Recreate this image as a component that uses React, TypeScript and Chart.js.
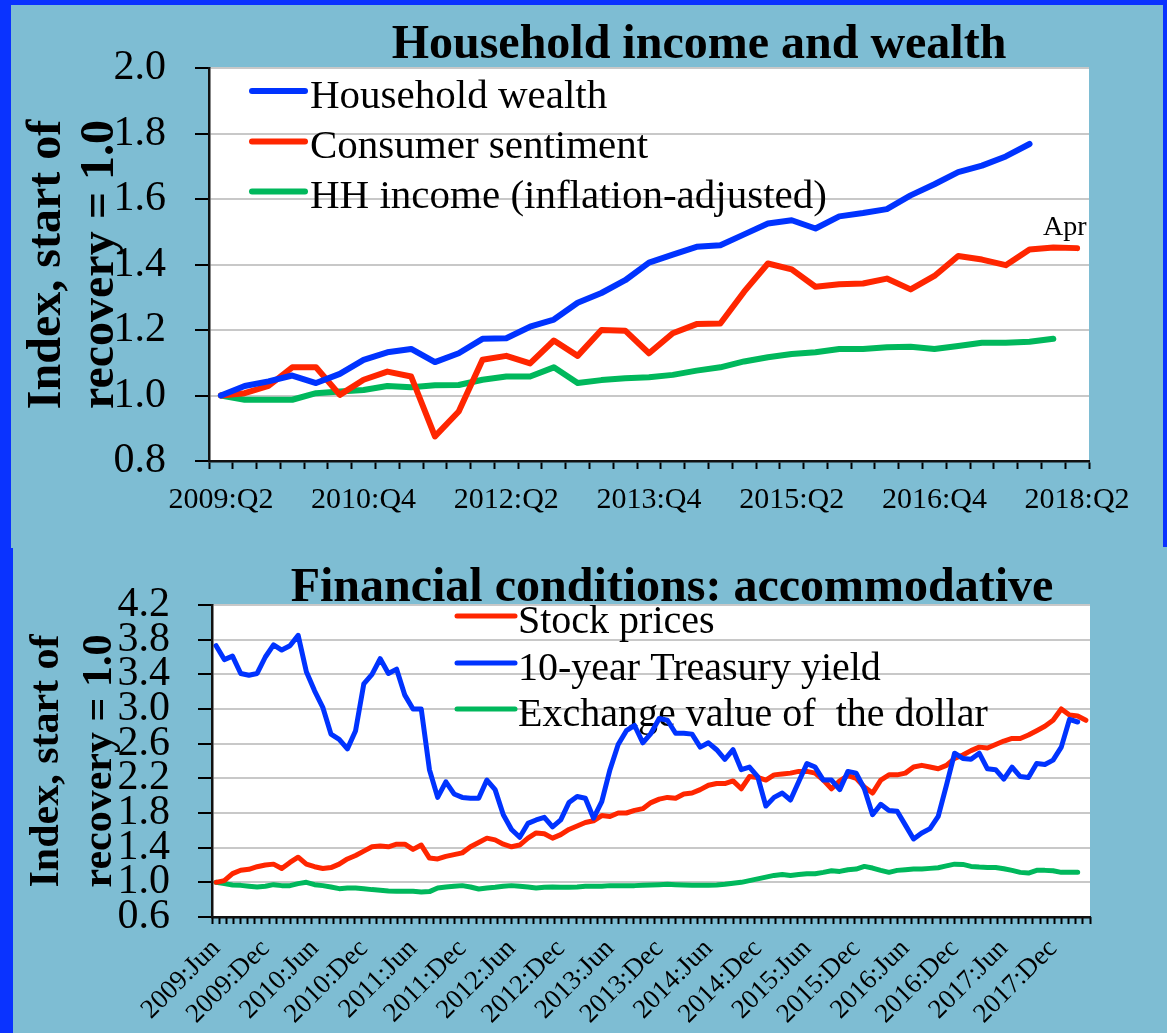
import React, { useEffect, useRef } from "react";
import { Chart, registerables } from "chart.js";

Chart.register(...registerables);

const SERIF = "'Liberation Serif', 'Times New Roman', Times, serif";
const PAGE_BG = "#7EBDD3";
const FRAME_BLUE = "#0A33FF";
const C_BLUE = "#0033FF";
const C_RED = "#FF2600";
const C_GREEN = "#00B85C";
const GRID = "#C8C8C8";

// ---------- Top chart: Household income and wealth (quarterly) ----------
const topTitle = "Household income and wealth";
const yAxisTitle = ["Index, start of", "recovery = 1.0"];
const quarterLabels = [
  "2009:Q2", "2009:Q3", "2009:Q4",
  "2010:Q1", "2010:Q2", "2010:Q3", "2010:Q4",
  "2011:Q1", "2011:Q2", "2011:Q3", "2011:Q4",
  "2012:Q1", "2012:Q2", "2012:Q3", "2012:Q4",
  "2013:Q1", "2013:Q2", "2013:Q3", "2013:Q4",
  "2014:Q1", "2014:Q2", "2014:Q3", "2014:Q4",
  "2015:Q1", "2015:Q2", "2015:Q3", "2015:Q4",
  "2016:Q1", "2016:Q2", "2016:Q3", "2016:Q4",
  "2017:Q1", "2017:Q2", "2017:Q3", "2017:Q4",
  "2018:Q1", "2018:Q2",
];
const householdWealth = [
  1.0, 1.029, 1.043, 1.061, 1.038, 1.066, 1.109, 1.132, 1.142, 1.102,
  1.129, 1.173, 1.175, 1.21, 1.232, 1.283, 1.313, 1.352, 1.406, 1.43,
  1.454, 1.459, 1.492, 1.525, 1.535, 1.51, 1.547, 1.557, 1.569, 1.611,
  1.645, 1.682, 1.702, 1.73, 1.768,
];
const consumerSentiment = [
  1.0, 1.007, 1.029, 1.086, 1.086, 1.002, 1.048, 1.073, 1.058, 0.875,
  0.951, 1.109, 1.121, 1.098, 1.168, 1.121, 1.2, 1.198, 1.129, 1.19,
  1.218, 1.22, 1.317, 1.403, 1.385, 1.332, 1.34, 1.342, 1.357, 1.324,
  1.365, 1.426, 1.415, 1.398, 1.446, 1.452, 1.45,
];
const hhIncome = [
  1.0, 0.987, 0.987, 0.987, 1.007, 1.012, 1.017, 1.029, 1.025, 1.031,
  1.032, 1.048, 1.058, 1.058, 1.086, 1.038, 1.047, 1.053, 1.056, 1.063,
  1.076, 1.086, 1.104, 1.117, 1.127, 1.132, 1.142, 1.142, 1.147, 1.149,
  1.142, 1.151, 1.161, 1.161, 1.164, 1.173,
];
const topSeriesNames = ["Household wealth", "Consumer sentiment", "HH income (inflation-adjusted)"];
const topNote = "Apr";
const topYMin = 0.8;
const topYMax = 2.0;
const topYStep = 0.2;

// ---------- Bottom chart: Financial conditions (monthly) ----------
const bottomTitle = "Financial conditions: accommodative";
const monthLabels = [
  "2009:Jun", "2009:Jul", "2009:Aug", "2009:Sep", "2009:Oct", "2009:Nov", "2009:Dec",
  "2010:Jan", "2010:Feb", "2010:Mar", "2010:Apr", "2010:May", "2010:Jun", "2010:Jul", "2010:Aug", "2010:Sep", "2010:Oct", "2010:Nov", "2010:Dec",
  "2011:Jan", "2011:Feb", "2011:Mar", "2011:Apr", "2011:May", "2011:Jun", "2011:Jul", "2011:Aug", "2011:Sep", "2011:Oct", "2011:Nov", "2011:Dec",
  "2012:Jan", "2012:Feb", "2012:Mar", "2012:Apr", "2012:May", "2012:Jun", "2012:Jul", "2012:Aug", "2012:Sep", "2012:Oct", "2012:Nov", "2012:Dec",
  "2013:Jan", "2013:Feb", "2013:Mar", "2013:Apr", "2013:May", "2013:Jun", "2013:Jul", "2013:Aug", "2013:Sep", "2013:Oct", "2013:Nov", "2013:Dec",
  "2014:Jan", "2014:Feb", "2014:Mar", "2014:Apr", "2014:May", "2014:Jun", "2014:Jul", "2014:Aug", "2014:Sep", "2014:Oct", "2014:Nov", "2014:Dec",
  "2015:Jan", "2015:Feb", "2015:Mar", "2015:Apr", "2015:May", "2015:Jun", "2015:Jul", "2015:Aug", "2015:Sep", "2015:Oct", "2015:Nov", "2015:Dec",
  "2016:Jan", "2016:Feb", "2016:Mar", "2016:Apr", "2016:May", "2016:Jun", "2016:Jul", "2016:Aug", "2016:Sep", "2016:Oct", "2016:Nov", "2016:Dec",
  "2017:Jan", "2017:Feb", "2017:Mar", "2017:Apr", "2017:May", "2017:Jun", "2017:Jul", "2017:Aug", "2017:Sep", "2017:Oct", "2017:Nov", "2017:Dec",
  "2018:Jan", "2018:Feb", "2018:Mar", "2018:Apr",
];
const stockPrices = [
  1.0, 1.02, 1.1, 1.14, 1.15, 1.18, 1.2, 1.21, 1.16, 1.23,
  1.29, 1.21, 1.18, 1.16, 1.17, 1.21, 1.27, 1.31, 1.36, 1.41,
  1.42, 1.41, 1.44, 1.44, 1.38, 1.43, 1.28, 1.27, 1.3, 1.32,
  1.34, 1.41, 1.46, 1.51, 1.49, 1.44, 1.41, 1.43, 1.51, 1.57,
  1.56, 1.51, 1.55, 1.61, 1.65, 1.69, 1.71, 1.77, 1.76, 1.8,
  1.8, 1.83, 1.85, 1.92, 1.96, 1.98, 1.97, 2.02, 2.03, 2.07,
  2.12, 2.14, 2.14, 2.17, 2.08, 2.22, 2.21, 2.18, 2.24, 2.25,
  2.26, 2.28, 2.28, 2.26, 2.18, 2.08, 2.17, 2.23, 2.2, 2.1,
  2.03, 2.18, 2.24, 2.24, 2.26, 2.33, 2.35, 2.33, 2.31, 2.35,
  2.43, 2.47, 2.52, 2.56, 2.55, 2.59, 2.63, 2.66, 2.66, 2.7,
  2.75, 2.8, 2.87, 3.0, 2.93, 2.92, 2.87,
];
const treasuryYield = [
  3.73, 3.57, 3.61, 3.41, 3.39, 3.41, 3.6, 3.74, 3.68, 3.73,
  3.85, 3.43, 3.21, 3.02, 2.71, 2.65, 2.54, 2.75, 3.29, 3.4,
  3.58, 3.41, 3.46, 3.16, 3.0, 3.0, 2.3, 1.98, 2.16, 2.02,
  1.98, 1.97, 1.97, 2.18, 2.07, 1.78, 1.61, 1.52, 1.68, 1.72,
  1.75, 1.64, 1.72, 1.92, 1.99, 1.97, 1.74, 1.93, 2.3, 2.59,
  2.75, 2.81, 2.61, 2.72, 2.89, 2.87, 2.72, 2.72, 2.71, 2.56,
  2.61, 2.53, 2.42, 2.53, 2.3, 2.33, 2.22, 1.88, 1.98, 2.03,
  1.95, 2.16, 2.37, 2.33, 2.18, 2.18, 2.07, 2.28, 2.26, 2.08,
  1.78, 1.9, 1.83, 1.82, 1.66, 1.5, 1.57, 1.62, 1.76, 2.12,
  2.49, 2.43, 2.42, 2.49, 2.31, 2.3, 2.19, 2.33, 2.22, 2.21,
  2.37, 2.36, 2.41, 2.56, 2.88, 2.85,
];
const dollarValue = [
  1.0, 0.985, 0.97, 0.965, 0.955, 0.946, 0.954, 0.973, 0.962, 0.962,
  0.985, 1.0, 0.973, 0.962, 0.946, 0.927, 0.935, 0.935, 0.927, 0.916,
  0.908, 0.9, 0.897, 0.897, 0.897, 0.889, 0.893, 0.935, 0.946, 0.954,
  0.962, 0.946, 0.923, 0.935, 0.943, 0.955, 0.962, 0.954, 0.946, 0.935,
  0.943, 0.946, 0.943, 0.943, 0.946, 0.954, 0.954, 0.954, 0.962, 0.962,
  0.962, 0.962, 0.966, 0.969, 0.973, 0.977, 0.973, 0.969, 0.966, 0.966,
  0.966, 0.969, 0.977, 0.989, 1.0, 1.02, 1.04, 1.06, 1.08, 1.09,
  1.08, 1.09, 1.1, 1.1, 1.115, 1.134, 1.126, 1.146, 1.153, 1.184,
  1.165, 1.138, 1.115, 1.138, 1.146, 1.153, 1.153, 1.161, 1.169, 1.19,
  1.21, 1.207, 1.184, 1.176, 1.172, 1.172, 1.157, 1.138, 1.115, 1.107,
  1.138, 1.138, 1.134, 1.115, 1.115, 1.115,
];
const bottomSeriesNames = ["Stock prices", "10-year Treasury yield", "Exchange value of  the dollar"];
const bottomYMin = 0.6;
const bottomYMax = 4.2;
const bottomYStep = 0.4;
// the reference draws its minor tick marks on a finer grid than the monthly points
const bottomTickMarkCount = 123;

// ---------- helpers ----------
type OverlayCfg = {
  id: string;
  title: string;
  titleX: number;
  titleY: number;
  titleFont: string;
  legendNames: string[];
  legendColors: string[];
  legendX0: number; // relative to chartArea.left
  legendX1: number;
  legendTextX: number;
  legendRows: number[]; // relative to chartArea.top
  legendTextDy: number;
  legendFont: string;
  legendLineWidth: number;
  note?: { text: string; datasetIndex: number; dx: number; dy: number; font: string };
};

function makeOverlay(cfg: OverlayCfg) {
  return {
    id: cfg.id,
    beforeDraw(chart: any) {
      const { ctx, chartArea: a } = chart;
      ctx.save();
      ctx.fillStyle = "#ffffff";
      ctx.fillRect(a.left, a.top, a.right - a.left, a.bottom - a.top);
      ctx.restore();
    },
    beforeDatasetsDraw(chart: any) {
      const { ctx, chartArea: a } = chart;
      ctx.save();
      cfg.legendNames.forEach((name, i) => {
        const y = a.top + cfg.legendRows[i];
        ctx.strokeStyle = cfg.legendColors[i];
        ctx.lineWidth = cfg.legendLineWidth;
        ctx.lineCap = "round";
        ctx.beginPath();
        ctx.moveTo(a.left + cfg.legendX0, y);
        ctx.lineTo(a.left + cfg.legendX1, y);
        ctx.stroke();
        ctx.fillStyle = "#000";
        ctx.font = cfg.legendFont;
        ctx.textAlign = "left";
        ctx.textBaseline = "middle";
        ctx.fillText(name, a.left + cfg.legendTextX, y + cfg.legendTextDy);
      });
      ctx.restore();
    },
    afterDatasetsDraw(chart: any) {
      if (!cfg.note) return;
      const { ctx, chartArea: a } = chart;
      const meta = chart.getDatasetMeta(cfg.note.datasetIndex);
      const pt = meta.data[meta.data.length - 1];
      ctx.save();
      ctx.beginPath();
      ctx.rect(a.left, a.top, a.right - a.left, a.bottom - a.top);
      ctx.clip();
      ctx.fillStyle = "#000";
      ctx.font = cfg.note.font;
      ctx.textAlign = "left";
      ctx.textBaseline = "alphabetic";
      ctx.fillText(cfg.note.text, pt.x + cfg.note.dx, pt.y + cfg.note.dy);
      ctx.restore();
    },
    afterDraw(chart: any) {
      const { ctx } = chart;
      ctx.save();
      ctx.fillStyle = "#000";
      ctx.font = cfg.titleFont;
      ctx.textAlign = "center";
      ctx.textBaseline = "alphabetic";
      ctx.fillText(cfg.title, cfg.titleX, cfg.titleY);
      ctx.restore();
    },
  };
}

function lineDs(label: string, data: number[], color: string, width: number) {
  return {
    label,
    data,
    xAxisID: "x",
    yAxisID: "y",
    borderColor: color,
    backgroundColor: color,
    borderWidth: width,
    pointRadius: 0,
    pointHoverRadius: 0,
    tension: 0,
    fill: false,
    borderCapStyle: "round",
    borderJoinStyle: "round",
  };
}

function topConfig(): any {
  return {
    type: "line",
    data: {
      labels: quarterLabels,
      datasets: [
        lineDs(topSeriesNames[0], householdWealth, C_BLUE, 6),
        lineDs(topSeriesNames[1], consumerSentiment, C_RED, 6),
        lineDs(topSeriesNames[2], hhIncome, C_GREEN, 6),
      ],
    },
    options: {
      responsive: false,
      animation: false,
      devicePixelRatio: 1,
      events: [],
      layout: { padding: { top: 68, right: 78, left: 0, bottom: 0 } },
      plugins: { legend: { display: false }, title: { display: false }, tooltip: { enabled: false } },
      scales: {
        x: {
          type: "category",
          offset: true,
          grid: { offset: true, drawOnChartArea: false, tickLength: 8, tickColor: "#000", tickWidth: 2 },
          border: { display: true, color: "#111", width: 2.5, z: 1 },
          ticks: {
            autoSkip: false,
            maxRotation: 0,
            minRotation: 0,
            padding: 13,
            color: "#000",
            font: { family: SERIF, size: 30 },
            callback: (_v: any, i: number) => (i % 6 === 0 ? quarterLabels[i] : ""),
          },
          afterFit: (s: any) => {
            s.height = 87;
          },
        },
        y: {
          min: topYMin,
          max: topYMax,
          ticks: {
            autoSkip: false,
            stepSize: topYStep,
            padding: 29,
            color: "#000",
            font: { family: SERIF, size: 42 },
            callback: (v: any) => Number(v).toFixed(1),
          },
          grid: { color: GRID, lineWidth: 2, tickLength: 14, tickColor: "#000", tickWidth: 2 },
          border: { display: true, color: "#111", width: 2.5, z: 1 },
          title: {
            display: true,
            text: yAxisTitle,
            color: "#000",
            font: { family: SERIF, size: 48, weight: "bold", lineHeight: 1.1 },
            padding: { top: 21, bottom: 0 },
          },
          afterFit: (s: any) => {
            s.width = 209;
          },
        },
      },
    },
    plugins: [
      makeOverlay({
        id: "topOverlay",
        title: topTitle,
        titleX: 699,
        titleY: 58,
        titleFont: `bold 48px ${SERIF}`,
        legendNames: topSeriesNames,
        legendColors: [C_BLUE, C_RED, C_GREEN],
        legendX0: 43,
        legendX1: 96,
        legendTextX: 101,
        legendRows: [23, 73.5, 123.5],
        legendTextDy: 6,
        legendFont: `41px ${SERIF}`,
        legendLineWidth: 6,
        note: { text: topNote, datasetIndex: 1, dx: -34, dy: -13, font: `28px ${SERIF}` },
      }),
    ],
  };
}

function bottomConfig(): any {
  return {
    type: "line",
    data: {
      labels: monthLabels,
      datasets: [
        lineDs(bottomSeriesNames[1], treasuryYield, C_BLUE, 5),
        lineDs(bottomSeriesNames[0], stockPrices, C_RED, 5),
        lineDs(bottomSeriesNames[2], dollarValue, C_GREEN, 5),
      ],
    },
    options: {
      responsive: false,
      animation: false,
      devicePixelRatio: 1,
      events: [],
      layout: { padding: { top: 57, right: 77, left: 0, bottom: 0 } },
      plugins: { legend: { display: false }, title: { display: false }, tooltip: { enabled: false } },
      scales: {
        xTicks: {
          type: "linear",
          position: "bottom",
          weight: -1,
          min: 0,
          max: bottomTickMarkCount,
          grid: { drawOnChartArea: false, drawTicks: true, tickLength: 7, tickColor: "#000", tickWidth: 2 },
          border: { display: false },
          ticks: { display: false, autoSkip: false, stepSize: 1 },
          afterFit: (s: any) => {
            s.height = 0;
          },
        },
        x: {
          type: "category",
          position: "bottom",
          weight: 0,
          offset: true,
          grid: { offset: true, drawOnChartArea: false, drawTicks: false },
          border: { display: true, color: "#111", width: 2.5, z: 1 },
          ticks: {
            autoSkip: false,
            maxRotation: 45,
            minRotation: 45,
            padding: 16,
            color: "#000",
            font: { family: SERIF, size: 27 },
            callback: (_v: any, i: number) => (i % 6 === 0 ? monthLabels[i] : ""),
          },
          afterFit: (s: any) => {
            s.height = 116;
          },
        },
        y: {
          min: bottomYMin,
          max: bottomYMax,
          ticks: {
            autoSkip: false,
            stepSize: bottomYStep,
            padding: 28,
            color: "#000",
            font: { family: SERIF, size: 42 },
            callback: (v: any) => Number(v).toFixed(1),
          },
          grid: { color: GRID, lineWidth: 2, tickLength: 14, tickColor: "#000", tickWidth: 2 },
          border: { display: true, color: "#111", width: 2.5, z: 1 },
          title: {
            display: true,
            text: yAxisTitle,
            color: "#000",
            font: { family: SERIF, size: 42, weight: "bold", lineHeight: 1.26 },
            padding: { top: 21, bottom: 0 },
          },
          afterFit: (s: any) => {
            s.width = 212;
          },
        },
      },
    },
    plugins: [
      makeOverlay({
        id: "bottomOverlay",
        title: bottomTitle,
        titleX: 672,
        titleY: 53,
        titleFont: `bold 48px ${SERIF}`,
        legendNames: bottomSeriesNames,
        legendColors: [C_RED, C_BLUE, C_GREEN],
        legendX0: 245,
        legendX1: 303,
        legendTextX: 306,
        legendRows: [11, 58, 104],
        legendTextDy: 6,
        legendFont: `40px ${SERIF}`,
        legendLineWidth: 5,
      }),
    ],
  };
}

function ChartCanvas(props: { make: () => any; top: number; width: number; height: number }) {
  const ref = useRef<HTMLCanvasElement | null>(null);
  useEffect(() => {
    const chart = new Chart(ref.current as HTMLCanvasElement, props.make());
    return () => chart.destroy();
  }, []);
  return (
    <canvas
      ref={ref}
      width={props.width}
      height={props.height}
      style={{ position: "absolute", left: 0, top: props.top, width: props.width, height: props.height }}
    />
  );
}

export default function App() {
  const W = 1167;
  const H = 1033;
  const split = 548;
  return (
    <div style={{ position: "absolute", left: 0, top: 0, width: W, height: H, background: PAGE_BG, overflow: "hidden" }}>
      <div style={{ position: "absolute", left: 0, top: 0, width: W, height: 5, background: FRAME_BLUE }} />
      <div style={{ position: "absolute", left: 0, top: 0, width: 11, height: split, background: FRAME_BLUE }} />
      <div style={{ position: "absolute", left: W - 4, top: 0, width: 4, height: split - 1, background: FRAME_BLUE }} />
      <div style={{ position: "absolute", left: 0, top: split, width: 13, height: H - split, background: FRAME_BLUE }} />
      <ChartCanvas make={topConfig} top={0} width={W} height={split} />
      <ChartCanvas make={bottomConfig} top={split} width={W} height={H - split} />
    </div>
  );
}
